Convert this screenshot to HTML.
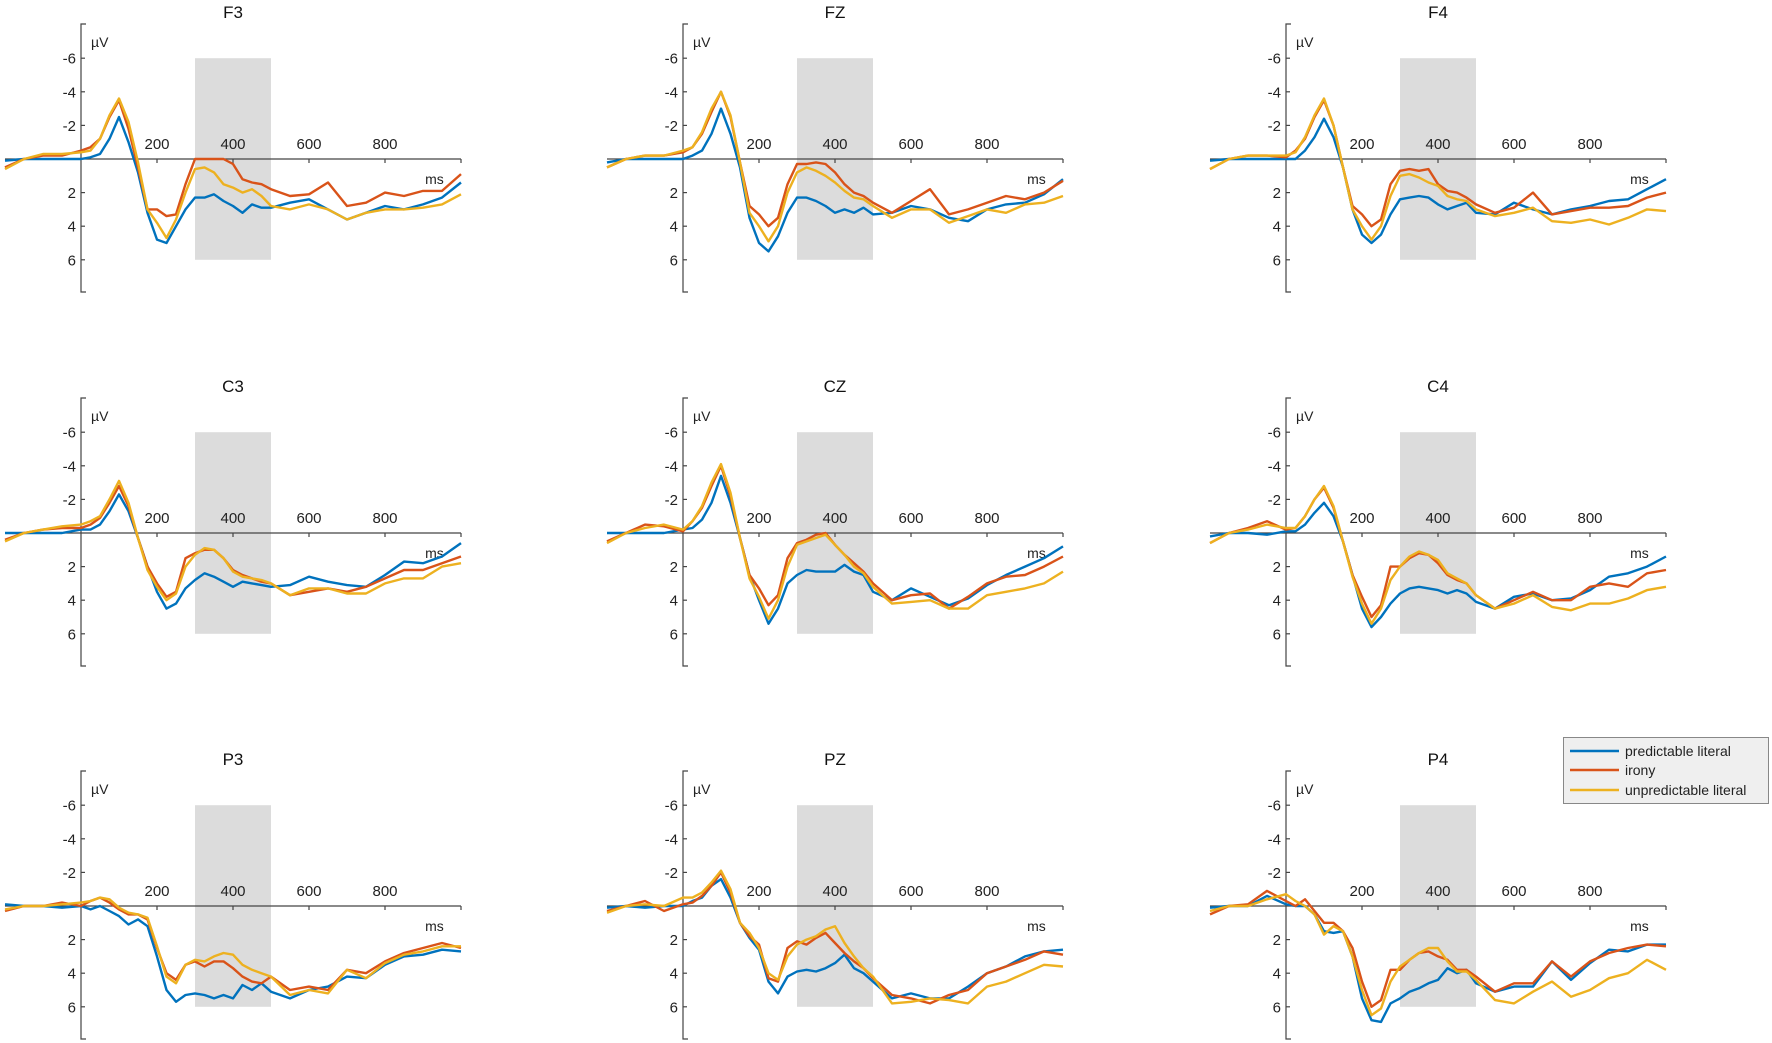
<!DOCTYPE html>
<html><head><meta charset="utf-8">
<style>
html,body{margin:0;padding:0;background:#fff;}
svg{display:block;font-family:"Liberation Sans",sans-serif;}
</style></head>
<body>
<svg id="chart" width="1772" height="1043" viewBox="0 0 1772 1043" xmlns="http://www.w3.org/2000/svg">
<g id="panels"></g>
<g>
  <rect x="1563.5" y="737.5" width="205" height="66" fill="#efefef" stroke="#888" stroke-width="1"/>
  <g>
    <line x1="1570" y1="751" x2="1619" y2="751" stroke="#0072BD" stroke-width="2.5"/>
    <text x="1625" y="756" font-size="14" fill="#222">predictable literal</text>
  </g>
  <g>
    <line x1="1570" y1="770" x2="1619" y2="770" stroke="#D95319" stroke-width="2.5"/>
    <text x="1625" y="775" font-size="14" fill="#222">irony</text>
  </g>
  <g>
    <line x1="1570" y1="790" x2="1619" y2="790" stroke="#EDB120" stroke-width="2.5"/>
    <text x="1625" y="795" font-size="14" fill="#222">unpredictable literal</text>
  </g>
</g>
</svg>
<script>
const times = [-200,-150,-100,-50,0,25,50,75,100,125,150,175,200,225,250,275,300,325,350,375,400,425,450,475,500,550,600,650,700,750,800,850,900,950,1000];
const channels = ["F3","FZ","F4","C3","CZ","C4","P3","PZ","P4"];
const xTicks = [200,400,600,800];
const yTicks = [-6,-4,-2,2,4,6];
const seriesNames = ["predictable literal","irony","unpredictable literal"];
const seriesColors = ["#0072BD","#D95319","#EDB120"];
const windowStart = 300, windowEnd = 500;

const F3_blue = [0.1,0,0,0,0,-0.1,-0.3,-1.2,-2.5,-1.0,0.8,3.2,4.8,5.0,4.0,3.0,2.3,2.3,2.1,2.5,2.8,3.2,2.7,2.9,2.9,2.6,2.4,3.0,3.6,3.2,2.8,3.0,2.7,2.3,1.4];
const F3_red = [0.5,0,-0.2,-0.2,-0.5,-0.7,-1.2,-2.5,-3.5,-1.8,0.5,3.0,3.0,3.4,3.3,1.5,0,0,0,0,0.3,1.2,1.4,1.5,1.8,2.2,2.1,1.4,2.8,2.6,2.0,2.2,1.9,1.9,0.9];
const F3_yellow = [0.6,0,-0.3,-0.3,-0.4,-0.5,-1.2,-2.6,-3.6,-2.2,0.2,3.0,3.8,4.7,3.6,2.0,0.6,0.5,0.8,1.5,1.7,2.0,1.8,2.2,2.8,3.0,2.7,3.0,3.6,3.2,3.0,3.0,2.9,2.7,2.1];

const FZ_blue = [0.2,0,0,0,0,-0.2,-0.5,-1.5,-3.0,-1.5,0.5,3.5,5.0,5.5,4.6,3.2,2.3,2.3,2.5,2.8,3.2,3.0,3.2,2.9,3.3,3.2,2.8,3.0,3.5,3.7,3.0,2.7,2.6,2.1,1.2];
const FZ_red = [0.5,0,-0.2,-0.2,-0.4,-0.7,-1.5,-2.8,-4.0,-2.5,0.2,2.8,3.3,4.0,3.5,1.5,0.3,0.3,0.2,0.3,0.8,1.5,2.0,2.2,2.6,3.2,2.5,1.8,3.3,3.0,2.6,2.2,2.4,2.0,1.3];
const FZ_yellow = [0.5,0,-0.2,-0.2,-0.5,-0.7,-1.6,-3.0,-4.0,-2.6,0.2,3.2,4.0,4.9,4.0,2.0,0.8,0.5,0.7,1.0,1.4,1.9,2.3,2.4,2.8,3.5,3.0,3.0,3.8,3.4,3.0,3.2,2.7,2.6,2.2];

const F4_blue = [0.1,0,0,0,0,0,-0.5,-1.3,-2.4,-1.3,0.5,3.0,4.5,5.0,4.5,3.3,2.4,2.3,2.2,2.3,2.7,3.0,2.8,2.6,3.2,3.3,2.6,3.0,3.3,3.0,2.8,2.5,2.4,1.8,1.2];
const F4_red = [0.6,0,-0.2,-0.2,-0.1,-0.5,-1.2,-2.5,-3.5,-2.0,0.5,2.8,3.3,4.0,3.6,1.5,0.7,0.6,0.7,0.6,1.5,1.9,2.0,2.3,2.7,3.2,2.9,2.0,3.3,3.1,2.9,2.9,2.8,2.3,2.0];
const F4_yellow = [0.6,0,-0.2,-0.2,-0.2,-0.4,-1.3,-2.6,-3.6,-2.0,0.5,3.0,4.0,4.8,4.0,2.2,1.0,0.9,1.1,1.4,1.6,2.2,2.4,2.5,3.0,3.4,3.2,2.9,3.7,3.8,3.6,3.9,3.5,3.0,3.1];

const C3_blue = [0,0,0,0,-0.2,-0.2,-0.5,-1.3,-2.3,-1.3,0.3,2.0,3.5,4.5,4.2,3.3,2.8,2.4,2.6,2.9,3.2,2.9,3.0,3.1,3.2,3.1,2.6,2.9,3.1,3.2,2.5,1.7,1.8,1.4,0.6];
const C3_red = [0.4,0,-0.2,-0.3,-0.3,-0.5,-0.9,-1.8,-2.8,-1.6,0.3,2.0,3.0,3.8,3.5,1.5,1.2,1.0,1.0,1.5,2.2,2.5,2.7,2.9,3.0,3.7,3.5,3.3,3.5,3.2,2.7,2.2,2.2,1.8,1.4];
const C3_yellow = [0.5,0,-0.2,-0.4,-0.5,-0.7,-1.0,-2.0,-3.1,-1.8,0.3,2.2,3.2,4.0,3.6,2.0,1.3,0.9,1.0,1.5,2.3,2.6,2.7,2.8,3.0,3.7,3.3,3.3,3.6,3.6,3.0,2.7,2.7,2.0,1.8];

const CZ_blue = [0,0,0,0,-0.2,-0.3,-0.8,-1.8,-3.4,-1.8,0.3,2.5,4.0,5.4,4.5,3.0,2.5,2.2,2.3,2.3,2.3,1.9,2.3,2.5,3.5,4.0,3.3,3.8,4.3,3.9,3.1,2.5,2.0,1.5,0.8];
const CZ_red = [0.5,0,-0.5,-0.4,-0.1,-0.7,-1.5,-2.8,-4.0,-2.2,0.3,2.5,3.3,4.3,3.7,1.5,0.6,0.4,0.1,0,0.7,1.3,1.8,2.3,3.0,4.0,3.7,3.6,4.5,3.8,3.0,2.6,2.5,2.0,1.4];
const CZ_yellow = [0.6,0,-0.3,-0.5,-0.2,-0.7,-1.6,-3.0,-4.1,-2.4,0.3,2.7,3.8,5.1,4.0,2.0,0.7,0.5,0.3,0.1,0.7,1.3,2.0,2.4,3.2,4.2,4.1,4.0,4.5,4.5,3.7,3.5,3.3,3.0,2.3];

const C4_blue = [0.2,0,0,0.1,-0.1,-0.1,-0.5,-1.2,-1.8,-1.0,0.5,2.5,4.5,5.6,5.0,4.2,3.6,3.3,3.2,3.3,3.4,3.6,3.4,3.6,4.1,4.5,3.8,3.6,4.0,3.9,3.4,2.6,2.4,2.0,1.4];
const C4_red = [0.6,0,-0.3,-0.7,-0.2,-0.3,-1.0,-2.0,-2.7,-1.5,0.5,2.5,3.8,5.0,4.3,2.0,2.0,1.5,1.2,1.3,1.8,2.5,2.8,3.0,3.7,4.5,4.0,3.5,4.0,4.0,3.2,3.0,3.2,2.4,2.2];
const C4_yellow = [0.6,0,-0.2,-0.5,-0.3,-0.3,-1.0,-2.0,-2.8,-1.6,0.5,2.6,4.2,5.4,4.5,2.8,2.0,1.4,1.1,1.3,1.6,2.4,2.7,3.0,3.7,4.5,4.2,3.7,4.4,4.6,4.2,4.2,3.9,3.4,3.2];

const P3_blue = [-0.1,0,0,0.1,0,0.2,0,0.3,0.6,1.1,0.8,1.2,3.0,5.0,5.7,5.3,5.2,5.3,5.5,5.3,5.5,4.7,5.0,4.6,5.1,5.5,5.0,4.8,4.2,4.3,3.5,3.0,2.9,2.6,2.7];
const P3_red = [0.3,0,0,-0.2,0,-0.3,-0.5,-0.2,0.2,0.5,0.5,0.8,2.5,4.0,4.4,3.5,3.3,3.6,3.3,3.3,3.7,4.2,4.5,4.6,4.2,5.0,4.8,5.0,3.8,4.0,3.3,2.8,2.5,2.2,2.5];
const P3_yellow = [0.2,0,0,-0.1,-0.2,-0.3,-0.5,-0.4,0.1,0.4,0.5,0.7,2.4,4.2,4.6,3.5,3.2,3.3,3.0,2.8,2.9,3.5,3.8,4.0,4.2,5.3,5.0,5.2,3.8,4.3,3.4,2.9,2.7,2.4,2.4];

const PZ_blue = [0.1,0,0.1,0,0,-0.3,-0.5,-1.2,-1.6,-0.5,1.0,1.9,2.6,4.5,5.2,4.2,3.9,3.8,3.9,3.7,3.4,2.9,3.7,4.0,4.5,5.5,5.2,5.5,5.5,4.8,4.0,3.6,3.0,2.7,2.6];
const PZ_red = [0.3,0,-0.3,0.3,-0.1,-0.2,-0.6,-1.2,-2.0,-0.8,1.0,1.8,2.3,4.3,4.5,2.5,2.1,2.3,1.9,1.6,2.2,2.8,3.3,3.7,4.3,5.3,5.5,5.8,5.3,5.0,4.0,3.6,3.2,2.7,2.9];
const PZ_yellow = [0.4,0,-0.1,0,-0.5,-0.5,-0.8,-1.4,-2.1,-1.0,1.0,1.6,2.5,4.0,4.4,3.0,2.3,2.0,1.8,1.4,1.2,2.2,3.0,3.7,4.2,5.8,5.7,5.5,5.6,5.8,4.8,4.5,4.0,3.5,3.6];

const P4_blue = [0.1,0,0,-0.6,-0.1,0,0,0.5,1.5,1.6,1.5,3.0,5.5,6.8,6.9,5.8,5.5,5.1,4.9,4.6,4.4,3.7,4.0,3.8,4.6,5.1,4.8,4.8,3.3,4.4,3.4,2.6,2.7,2.3,2.3];
const P4_red = [0.5,0,-0.1,-0.9,-0.3,0,-0.4,0.3,1.0,1.0,1.5,2.5,4.5,6.0,5.6,3.8,3.8,3.2,2.8,2.7,3.0,3.2,3.8,3.8,4.2,5.1,4.6,4.6,3.3,4.2,3.3,2.8,2.5,2.3,2.4];
const P4_yellow = [0.3,0,0,-0.4,-0.7,-0.3,0,0.5,1.7,1.2,1.5,3.0,5.0,6.5,6.1,4.5,3.6,3.2,2.8,2.5,2.5,3.3,3.9,3.9,4.4,5.6,5.8,5.1,4.5,5.4,5.0,4.3,4.0,3.2,3.8];

const panelSeries = [
  [F3_blue,F3_red,F3_yellow],[FZ_blue,FZ_red,FZ_yellow],[F4_blue,F4_red,F4_yellow],
  [C3_blue,C3_red,C3_yellow],[CZ_blue,CZ_red,CZ_yellow],[C4_blue,C4_red,C4_yellow],
  [P3_blue,P3_red,P3_yellow],[PZ_blue,PZ_red,PZ_yellow],[P4_blue,P4_red,P4_yellow]
];

const NS = "http://www.w3.org/2000/svg";
const colX = [81, 683, 1286];
const rowY = [159, 533, 906];
const PX_PER_MS = 0.38;
const PX_PER_UV = 16.8;

function mk(tag, attrs, parent) {
  const e = document.createElementNS(NS, tag);
  for (const k in attrs) e.setAttribute(k, attrs[k]);
  parent.appendChild(e);
  return e;
}

const root = document.getElementById("panels");
channels.forEach((ch, i) => {
  const ax = colX[i % 3], zy = rowY[Math.floor(i / 3)];
  const xs = t => ax + t * PX_PER_MS;
  const ys = v => zy + v * PX_PER_UV;
  const g = mk("g", {}, root);
  
  

  const shade = mk("rect", {x: xs(windowStart), y: ys(-6), width: xs(windowEnd) - xs(windowStart), height: ys(6) - ys(-6), fill: "#dcdcdc"}, g);
  
  

  const title = mk("text", {x: xs(400), y: zy - 141, "font-size": 17, "text-anchor": "middle", fill: "#111"}, g);
  title.textContent = ch;
  
  

  // y axis
  const yaxis = mk("g", {stroke: "#444", "stroke-width": 1.2, fill: "none"}, g);
  
  
  mk("path", {d: `M${ax+5},${zy-135}H${ax}V${zy+133}H${ax+5}`}, yaxis);
  yTicks.forEach(v => {
    mk("line", {x1: ax, x2: ax + 4, y1: ys(v), y2: ys(v)}, yaxis);
    const t = mk("text", {x: ax - 5, y: ys(v) + 5.5, "font-size": 15, "text-anchor": "end", fill: "#222", stroke: "none"}, g);
    t.textContent = String(v);
    
    
  });
  const uv = mk("text", {x: ax + 10, y: zy - 112, "font-size": 14, fill: "#222"}, g);
  uv.textContent = "µV";
  
  

  // x axis
  const xaxis = mk("g", {stroke: "#444", "stroke-width": 1.2}, g);
  
  
  mk("line", {x1: xs(-200), x2: xs(1000), y1: zy, y2: zy}, xaxis);
  xTicks.concat([1000]).forEach(t => mk("line", {x1: xs(t), x2: xs(t), y1: zy, y2: zy + 4}, xaxis));
  xTicks.forEach(t => {
    const tl = mk("text", {x: xs(t), y: zy - 10, "font-size": 15, "text-anchor": "middle", fill: "#222"}, g);
    tl.textContent = String(t);
    
    
  });
  const ms = mk("text", {x: xs(930), y: zy + 25, "font-size": 14, "text-anchor": "middle", fill: "#222"}, g);
  ms.textContent = "ms";
  
  

  // series
  panelSeries[i].forEach((vals, s) => {
    const d = vals.map((v, k) => (k ? "L" : "M") + xs(times[k]).toFixed(1) + "," + ys(v).toFixed(1)).join("");
    const p = mk("path", {d: d, fill: "none", stroke: seriesColors[s], "stroke-width": 2.4, "stroke-linejoin": "round"}, g);
    
    
  });
});
</script>
</body></html>
